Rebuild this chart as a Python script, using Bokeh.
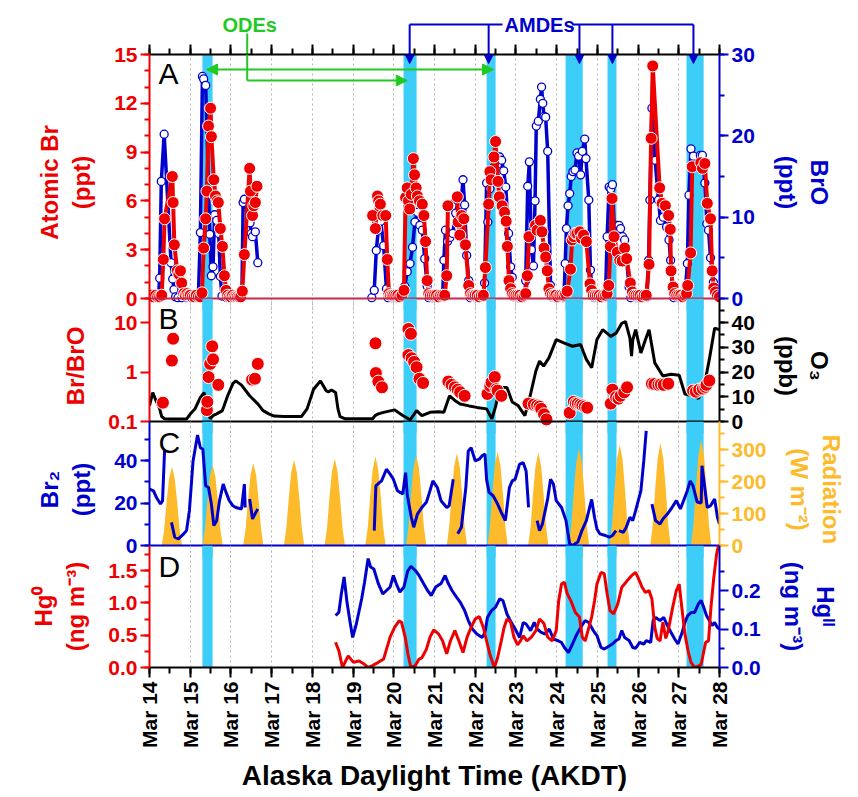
import math
from bokeh.plotting import figure
from bokeh.layouts import column
from bokeh.models import (Range1d, LinearAxis, LinearScale, SingleIntervalTicker, FixedTicker,
                          BoxAnnotation, Span, Label, Arrow, NormalHead, NumeralTickFormatter)
from bokeh.embed import file_html
from bokeh.resources import INLINE

nan = float("nan")

# ---------------- data ----------------
day_ticks = list(range(14, 29))
day_labels = ["Mar %d" % d for d in day_ticks]

event_bands = [(15.30, 15.55), (20.24, 20.56), (22.28, 22.50), (24.22, 24.64), (25.25, 25.47), (27.19, 27.61)]
amde_times = [20.39, 22.33, 24.56, 25.37, 27.36]
ode_times = [15.40, 20.33, 22.45]

br_t = [14.00, 14.05, 14.10, 14.15, 14.20, 14.25, 14.30, 14.34, 14.37, 14.56, 14.58, 14.61, 14.68, 14.72, 14.76, 14.79,
        14.84, 14.88, 14.92, 14.96, 15.00, 15.05, 15.10, 15.15, 15.20, 15.25, 15.29, 15.33, 15.38, 15.41, 15.45, 15.50,
        15.52, 15.58, 15.62, 15.66, 15.69, 15.74, 15.79, 15.84, 15.88, 15.92, 15.96, 16.00, 16.04, 16.08, 16.12, 16.16,
        16.20, 16.24, 16.28, 16.33, 16.46, 16.48, 16.53, 16.56, 16.60, 16.64, 17.5,
        19.48, 19.55, 19.60, 19.63, 19.67, 19.73, 19.80, 19.84, 19.88, 19.92, 19.96, 20.00, 20.05, 20.10, 20.15, 20.20,
        20.25, 20.29, 20.33, 20.36, 20.39, 20.43, 20.48, 20.51, 20.55, 20.58, 20.63, 20.70, 20.74, 20.78, 20.82, 20.86,
        20.90, 20.95, 21.00, 21.05, 21.10, 21.15, 21.20, 21.25, 21.30, 21.33, 21.56, 21.58, 21.62, 21.67, 21.72, 21.76,
        21.84, 21.88, 21.92, 21.96, 22.00, 22.05, 22.10, 22.15, 22.20, 22.25, 22.33, 22.36, 22.39, 22.46, 22.50, 22.56,
        22.59, 22.66, 22.72, 22.76, 22.79, 22.83, 22.87, 22.91, 22.95, 23.00, 23.05, 23.10, 23.15, 23.20, 23.24, 23.28,
        23.32, 23.48, 23.52, 23.60, 23.64, 23.69, 23.73, 23.77, 23.81, 23.85, 23.89, 23.94, 23.98, 24.03, 24.08, 24.13,
        24.18, 24.22, 24.26, 24.34, 24.38, 24.42, 24.46, 24.50, 24.57, 24.61, 24.66, 24.73, 24.82, 24.86, 24.90, 24.95,
        25.00, 25.05, 25.10, 25.15, 25.20, 25.24, 25.28, 25.32, 25.36, 25.41, 25.49, 25.55, 25.61, 25.67, 25.72, 25.81,
        25.86, 25.90, 25.95, 26.00, 26.05, 26.10, 26.15, 26.20, 26.27, 26.32, 26.36, 26.53, 26.59, 26.67, 26.75, 26.79,
        26.81, 26.86, 26.90, 26.95, 27.00, 27.05, 27.10, 27.15, 27.19, 27.22, 27.29, 27.33, 27.54, 27.58, 27.64, 27.70,
        27.78, 27.82, 27.86, 27.90, 27.95, 28.00]
br_v = [0.1, 0.2, 0.1, 0.2, 0.1, 0.1, 0.2, 2.4, 4.9, 7.5, 5.9, 3.3, 1.7, 1.5, 1.7, 0.95,
        0.3, 0.2, 0.3, 0.2, 0.2, 0.1, 0.1, 0.2, 0.1, 0.1, 0.35, 3.1, 4.9, 6.6, 10.6, 11.7,
        9.95, 7.3, 6.3, 6.0, 5.9, 4.3, 3.2, 1.4, 0.5, 0.2, 0.1, 0.1, 0.2, 0.1, 0.1, 0.1,
        0.1, 0.1, 0.45, 2.7, 8.0, 6.6, 5.1, 5.7, 5.9, 6.9, nan,
        5.1, 4.3, 6.3, 6.0, 5.8, 5.1, 5.1, 2.4, 0.3, 0.2, 0.2, 0.2, 0.2, 0.2, 0.1, 0.2,
        0.5, 6.2, 6.8, 6.0, 5.5, 6.4, 8.6, 7.6, 6.8, 6.3, 6.0, 5.8, 5.1, 3.5, 1.1, 0.3,
        0.2, 0.2, 0.2, 0.2, 0.1, 0.2, 0.2, 0.2, 1.4, 5.7, 6.25, 4.7, 3.9, 5.1, 4.9, 3.3,
        0.8, 0.3, 0.2, 0.2, 0.2, 0.2, 0.1, 0.2, 0.2, 1.9, 5.8, 7.8, 7.3, 8.7, 9.65, 7.2,
        6.25, 5.7, 5.3, 4.75, 3.2, 1.1, 0.6, 0.3, 0.2, 0.2, 0.2, 0.2, 0.1, 0.2, 0.3, 1.4,
        3.8, 4.5, 4.2, 4.8, 4.1, 3.1, 2.55, 1.7, 0.6, 0.3, 0.2, 0.2, 0.2, 0.1, 0.2, 0.2,
        0.2, 0.3, 0.45, 1.8, 3.6, 3.8, 4.0, 4.0, 4.1, 3.7, 3.9, 3.5, 0.9, 0.5, 0.2, 0.2,
        0.2, 0.2, 0.1, 0.2, 0.2, 0.3, 0.8, 3.2, 6.15, 3.8, 2.85, 2.35, 2.3, 3.1, 2.45, 0.95,
        0.4, 0.2, 0.2, 0.2, 0.2, 0.1, 0.2, 0.2, 2.1, 9.85, 14.3, 6.8, 5.85, 5.7, 5.1, 4.25,
        1.7, 0.7, 0.3, 0.2, 0.2, 0.2, 0.1, 0.2, 0.3, 0.8, 2.8, 8.1, 8.35, 8.0, 8.3, 5.85,
        4.9, 1.7, 0.65, 0.4, 0.2, 0.1]

bro_t = [14.00, 14.10, 14.20, 14.22, 14.25, 14.29, 14.36, 14.53, 14.57, 14.60, 14.64, 14.70, 14.80, 14.90, 15.00,
         15.10, 15.20, 15.25, 15.30, 15.33, 15.38, 15.48, 15.52, 15.56, 15.60, 15.65, 15.70, 15.74, 15.78, 15.90,
         16.00, 16.10, 16.20, 16.27, 16.30, 16.33, 16.47, 16.50, 16.53, 16.60, 16.66, 17.5,
         19.46, 19.52, 19.57, 19.62, 19.68, 19.75, 19.82, 19.86, 19.95, 20.05, 20.15, 20.22, 20.27, 20.33, 20.40,
         20.46, 20.52, 20.58, 20.64, 20.70, 20.76, 20.82, 20.86, 20.95, 21.05, 21.15, 21.20, 21.23, 21.27, 21.32,
         21.38, 21.45, 21.52, 21.58, 21.65, 21.70, 21.74, 21.79, 21.84, 21.88, 22.00, 22.10, 22.20, 22.23, 22.28,
         22.31, 22.36, 22.43, 22.50, 22.55, 22.60, 22.65, 22.70, 22.75, 22.82, 22.87, 22.91, 22.95, 23.05, 23.15,
         23.22, 23.24, 23.29, 23.33, 23.38, 23.43, 23.47, 23.50, 23.55, 23.60, 23.63, 23.66, 23.69, 23.73, 23.78,
         23.85, 23.88, 23.95, 24.05, 24.15, 24.18, 24.21, 24.24, 24.28, 24.32, 24.36, 24.40, 24.45, 24.50, 24.54,
         24.59, 24.63, 24.69, 24.72, 24.79, 24.83, 24.87, 24.92, 25.00, 25.10, 25.20, 25.24, 25.29, 25.33, 25.37,
         25.42, 25.48, 25.53, 25.57, 25.62, 25.67, 25.72, 25.78, 25.82, 25.95, 26.05, 26.15, 26.22, 26.26, 26.29,
         26.34, 26.42, 26.50, 26.55, 26.62, 26.70, 26.76, 26.80, 26.84, 26.88, 26.98, 27.08, 27.15, 27.21, 27.25,
         27.30, 27.36, 27.45, 27.53, 27.58, 27.64, 27.69, 27.73, 27.78, 27.85, 27.92, 28.00]
bro_v = [0.1, 0.1, 0.1, 0.3, 2.5, 14.4, 20.2, 4.4, 2.4, 1.1, 0.2, 0.1, 0.1, 0.1, 0.1,
         0.1, 0.2, 8.1, 27.3, 27.0, 26.2, 7.9, 2.8, 3.9, 10.3, 9.6, 8.0, 2.7, 0.3, 0.1,
         0.1, 0.1, 0.1, 0.5, 11.8, 12.2, 9.3, 8.0, 7.6, 8.2, 4.4, nan,
         0.1, 1.0, 5.9, 8.4, 9.5, 6.5, 1.2, 0.1, 0.1, 0.1, 0.1, 0.5, 1.5, 3.3, 4.3,
         6.3, 9.4, 10.6, 9.0, 8.4, 4.9, 1.5, 0.1, 0.1, 0.1, 0.1, 0.2, 4.7, 8.4, 7.0,
         7.5, 8.0, 10.5, 12.0, 11.5, 14.6, 11.5, 5.3, 2.2, 0.1, 0.1, 0.1, 0.2, 1.9, 14.2,
         9.4, 13.5, 16.0, 15.0, 16.5, 17.4, 17.0, 15.7, 13.7, 8.0, 3.9, 2.6, 0.2, 0.1, 0.1,
         0.3, 2.2, 13.8, 16.8, 6.0, 4.0, 12.0, 21.2, 21.8, 24.5, 26.0, 24.0, 22.4, 22.3, 18.1,
         1.6, 0.2, 0.1, 0.1, 0.1, 0.3, 4.3, 8.6, 11.4, 12.9, 15.0, 15.6, 15.8, 17.9, 17.5,
         15.2, 18.1, 19.6, 17.2, 12.1, 3.5, 1.2, 0.1, 0.1, 0.1, 0.2, 7.6, 13.7, 13.5, 14.0,
         8.0, 9.0, 9.0, 8.6, 7.6, 7.2, 4.7, 1.4, 0.1, 0.1, 0.1, 0.1, 0.2, 4.7, 12.1,
         23.4, 17.0, 12.1, 9.6, 10.0, 8.8, 7.2, 4.7, 1.5, 0.1, 0.1, 0.1, 0.2, 4.3, 12.7,
         18.4, 17.5, 16.5, 17.6, 17.6, 14.2, 9.2, 8.4, 5.0, 2.0, 0.5, 0.1]

ratio_t = [14.33, 14.55, 14.58, 15.41, 15.42, 15.45, 15.49, 15.54, 15.56, 15.69, 16.52, 16.59, 16.66,
           19.55, 19.56, 19.62, 19.71, 20.36, 20.42, 20.36, 20.44, 20.50, 20.56, 20.63, 20.72,
           21.34, 21.42, 21.50, 21.57, 21.63, 21.74, 22.30, 22.37, 22.40, 22.48, 22.52, 22.55, 22.64,
           23.31, 23.44, 23.52, 23.58, 23.62, 23.69, 23.75, 24.32, 24.42, 24.47, 24.52, 24.58, 24.63, 24.69, 24.75,
           25.33, 25.37, 25.46, 25.52, 25.57, 25.66, 25.73, 26.34, 26.40, 26.50, 26.56, 26.63, 26.74,
           27.35, 27.42, 27.50, 27.59, 27.65, 27.68, 27.75]
ratio_v = [0.24, 1.7, 4.7, 0.17, 0.25, 0.79, 1.46, 3.3, 1.8, 0.55, 0.70, 0.73, 1.46,
           3.8, 0.95, 0.64, 0.49, 7.4, 5.9, 2.2, 1.9, 1.6, 1.25, 0.73, 0.6,
           0.64, 0.55, 0.49, 0.44, 0.39, 0.33, 0.36, 0.52, 0.62, 0.79, 0.45, 0.42, 0.33,
           0.23, 0.22, 0.21, 0.2, 0.18, 0.14, 0.11, 0.15, 0.25, 0.23, 0.23, 0.22, 0.21, 0.2, 0.19,
           0.23, 0.44, 0.31, 0.29, 0.33, 0.39, 0.49, 0.58, 0.57, 0.55, 0.56, 0.55, 0.58,
           0.42, 0.40, 0.44, 0.46, 0.50, 0.55, 0.67]

o3_t = [14.00, 14.08, 14.17, 14.24, 14.30, 14.37, 14.50, 14.70, 14.91, 15.00, 15.12, 15.25, 15.34, 15.42, 15.49,
        15.57, 15.65, 15.79, 15.92, 16.05, 16.12, 16.26, 16.46, 16.66, 16.79, 16.93, 17.06, 17.30, 17.50, 17.73,
        17.87, 18.03, 18.20, 18.34, 18.40, 18.47, 18.57, 18.63, 18.68, 18.81, 19.00, 19.20, 19.48, 19.55, 19.62,
        19.75, 20.02, 20.22, 20.40, 20.48, 20.56, 20.69, 20.89, 21.10, 21.23, 21.37, 21.50, 21.63, 21.85, 22.04,
        22.28, 22.41, 22.50, 22.60, 22.78, 22.91, 23.05, 23.22, 23.35, 23.49, 23.58, 23.68, 23.81, 23.99, 24.19,
        24.39, 24.59, 24.66, 24.73, 24.86, 24.99, 25.13, 25.33, 25.46, 25.60, 25.69, 25.80, 25.84, 25.87, 25.94,
        26.07, 26.18, 26.27, 26.41, 26.61, 26.81, 27.01, 27.15, 27.35, 27.48, 27.61, 27.75, 27.88, 28.00]
o3_v = [6.4, 11.7, 8.0, 5.7, 2.0, 1.1, 1.0, 1.0, 1.0, 3.0, 5.2, 9.7, 11.7, 6.0, 1.1,
        2.5, 3.1, 4.4, 10.4, 15.4, 16.4, 14.7, 10.4, 7.1, 4.4, 3.1, 2.2, 2.0, 2.0, 2.0,
        5.1, 13.0, 16.4, 12.4, 12.0, 12.7, 11.7, 5.0, 2.0, 1.1, 1.1, 1.1, 1.1, 2.5, 3.1,
        3.7, 4.7, 2.4, 0.7, 2.5, 4.4, 2.4, 3.7, 3.9, 3.7, 10.4, 8.5, 7.1, 6.3, 5.7,
        5.1, 1.1, 6.0, 13.7, 13.7, 7.9, 6.5, 2.4, 10.4, 20.4, 24.4, 22.4, 25.7, 33.1, 31.7,
        30.4, 31.1, 28.0, 25.1, 21.7, 33.1, 37.1, 34.4, 35.7, 39.7, 40.4, 33.7, 26.4, 33.0, 37.1,
        27.7, 33.0, 37.1, 23.7, 18.4, 19.1, 18.7, 11.1, 10.4, 9.3, 13.1, 25.1, 37.7, 37.1]

br2_t = [14.00, 14.10, 14.17, 14.27, 14.32, 14.37, 14.45,
         14.54, 14.62, 14.71, 14.84, 14.91, 14.98, 15.07, 15.18, 15.25, 15.31, 15.38, 15.45, 15.52, 15.58, 15.65,
         15.72, 15.81, 15.88, 15.96, 16.05, 16.12, 16.26, 16.33, 16.35, 16.40,
         16.46, 16.53, 16.59, 16.66, 17.5,
         19.52, 19.56, 19.64, 19.70, 19.82, 19.91, 19.99, 20.09, 20.22, 20.29, 20.33, 20.43, 20.49, 20.58, 20.69,
         20.80, 20.89, 20.96, 21.07, 21.16, 21.30, 21.36, 21.46, 21.52,
         21.57, 21.66, 21.77, 21.83, 21.90, 22.00, 22.10, 22.17, 22.24, 22.28, 22.34, 22.44, 22.55, 22.64, 22.74,
         22.84, 22.91, 22.98, 23.09, 23.18, 23.25, 23.31, 23.40,
         23.52, 23.58, 23.65, 23.78, 23.85, 23.92, 23.99, 24.12, 24.23, 24.32, 24.39, 24.52, 24.62, 24.73, 24.86,
         24.93, 24.99, 25.06, 25.20, 25.29, 25.37, 25.46, 25.50,
         25.53, 25.64, 25.71, 25.80, 25.87, 25.94, 26.07, 26.14, 26.20, 26.27,
         26.34, 26.43, 26.54, 26.61, 26.72, 26.81, 26.94, 27.04, 27.21, 27.28, 27.35, 27.45, 27.55, 27.57, 27.70,
         27.78, 27.88, 27.95, 28.00]
br2_v = [26.5, 25.7, 22.6, 19.5, 21.0, 44.5, nan,
         10.9, 3.9, 3.1, 5.5, 7.0, 16.4, 39.8, 52.0, 46.0, 45.3, 28.1, 27.3, 19.5, 9.4, 11.7,
         21.1, 28.9, 25.0, 21.1, 18.7, 17.9, 17.2, 28.9, 17.9, nan,
         21.9, 12.5, 14.8, 17.2, nan,
         7.0, 28.1, 29.5, 30.4, 35.9, 33.6, 31.2, 25.8, 24.2, 34.3, 24.0, 13.3, 8.6, 14.8, 17.9,
         20.3, 25.8, 30.4, 27.3, 21.1, 17.9, 18.7, 31.2, nan,
         5.5, 8.6, 27.3, 44.5, 46.0, 39.8, 40.6, 42.2, 43.0, 31.0, 25.0, 23.4, 19.5, 15.6, 11.7,
         27.3, 30.4, 31.2, 38.3, 39.0, 35.1, 17.9, nan,
         11.7, 7.0, 10.1, 22.0, 31.2, 28.9, 21.1, 17.9, 11.7, 0.8, 0.0, 1.6, 7.0, 11.7, 21.7,
         13.3, 7.8, 5.5, 4.7, 3.9, 4.7, 7.0, nan,
         7.0, 6.2, 8.6, 13.3, 11.7, 16.4, 25.8, 39.8, 53.9, nan,
         19.5, 11.7, 10.1, 12.5, 14.8, 17.2, 21.1, 17.2, 25.8, 30.4, 28.1, 20.5, 20.0, 37.5, 17.9,
         18.7, 21.9, 13.3, 10.1]

rad_days = list(range(14, 28))
rad_offsets = [0.30, 0.36, 0.42, 0.48, 0.55, 0.62, 0.68, 0.74, 0.80]
rad_rows = [
    [0, 49, 136, 210, 247, 210, 136, 49, 0],
    [0, 51, 139, 215, 253, 215, 139, 51, 0],
    [0, 52, 142, 220, 259, 220, 142, 52, 0],
    [0, 54, 148, 229, 269, 229, 148, 54, 0],
    [0, 54, 150, 231, 272, 231, 150, 54, 0],
    [0, 56, 153, 237, 279, 237, 153, 56, 0],
    [0, 57, 156, 241, 284, 241, 156, 57, 0],
    [0, 58, 159, 246, 289, 246, 159, 58, 0],
    [0, 59, 162, 251, 295, 251, 162, 59, 0],
    [0, 58, 161, 248, 292, 248, 161, 58, 0],
    [0, 61, 167, 258, 303, 258, 167, 61, 0],
    [0, 63, 174, 269, 317, 269, 174, 63, 0],
    [0, 64, 177, 273, 321, 273, 177, 64, 0],
    [0, 66, 182, 281, 331, 281, 182, 66, 0],
]

hg0_t = [18.57, 18.65, 18.74, 18.88, 19.01, 19.15, 19.28, 19.37, 19.48, 19.62, 19.75, 19.82, 19.91, 20.02, 20.13,
         20.19, 20.28, 20.35, 20.42, 20.53, 20.62, 20.69, 20.80, 20.89, 20.98, 21.10, 21.20, 21.30, 21.39, 21.50,
         21.60, 21.70, 21.80, 21.90, 22.00, 22.10, 22.20, 22.28, 22.37, 22.47, 22.55, 22.64, 22.71, 22.78, 22.87,
         22.95, 23.04, 23.11, 23.18, 23.27, 23.38, 23.49, 23.58, 23.69, 23.78, 23.89, 23.99, 24.05, 24.12, 24.19,
         24.26, 24.35, 24.46, 24.56, 24.63, 24.70, 24.77, 24.86, 24.93, 24.99, 25.09, 25.17, 25.24, 25.31, 25.40,
         25.50, 25.60, 25.73, 25.84, 25.94, 26.00, 26.10, 26.18, 26.27, 26.34, 26.41, 26.47, 26.54, 26.61, 26.68,
         26.74, 26.85, 26.94, 27.01, 27.08, 27.15, 27.23, 27.30, 27.39, 27.48, 27.55, 27.66, 27.73, 27.79, 27.86,
         27.93, 28.00]
hg0_v = [0.39, 0.26, 0.0, 0.18, 0.08, 0.10, 0.05, 0.0, 0.03, 0.08, 0.13, 0.28, 0.47, 0.62, 0.72,
         0.70, 0.47, 0.20, 0.0, 0.03, 0.13, 0.15, 0.28, 0.47, 0.58, 0.52, 0.41, 0.21, 0.41, 0.57,
         0.41, 0.23, 0.47, 0.62, 0.75, 0.79, 0.62, 0.41, 0.18, 0.0, 0.15, 0.41, 0.62, 0.75, 0.70,
         0.47, 0.35, 0.41, 0.49, 0.41, 0.47, 0.57, 0.75, 0.68, 0.47, 0.41, 0.57, 1.03, 1.29, 1.32,
         1.14, 1.03, 0.85, 0.78, 0.47, 0.41, 0.57, 0.78, 1.03, 1.29, 1.47, 1.45, 1.14, 0.88, 0.83,
         0.98, 1.24, 1.34, 1.42, 1.47, 1.39, 1.24, 1.16, 1.19, 1.06, 0.62, 0.45, 0.41, 0.70, 0.45,
         0.57, 0.93, 1.19, 1.29, 0.90, 0.52, 0.25, 0.08, 0.0, 0.02, 0.05, 0.39, 0.41, 0.93, 1.39,
         1.76, 1.95]

hg2_t = [18.57, 18.65, 18.71, 18.78, 18.85, 18.92, 18.99, 19.08, 19.21, 19.28, 19.37, 19.43, 19.51, 19.62, 19.73,
         19.82, 19.91, 19.99, 20.06, 20.15, 20.25, 20.34, 20.42, 20.53, 20.62, 20.72, 20.83, 20.92, 21.03, 21.16,
         21.26, 21.34, 21.43, 21.54, 21.63, 21.74, 21.83, 21.93, 22.04, 22.17, 22.24, 22.30, 22.40, 22.50, 22.60,
         22.68, 22.78, 22.86, 22.98, 23.09, 23.18, 23.25, 23.36, 23.45, 23.52, 23.62, 23.72, 23.82, 23.92, 24.03,
         24.12, 24.19, 24.29, 24.39, 24.48, 24.59, 24.70, 24.79, 24.90, 24.99, 25.09, 25.17, 25.26, 25.37, 25.46,
         25.53, 25.60, 25.67, 25.78, 25.87, 25.94, 26.04, 26.14, 26.20, 26.31, 26.37, 26.43, 26.54, 26.63, 26.72,
         26.81, 26.90, 26.98, 27.08, 27.15, 27.22, 27.31, 27.39, 27.48, 27.55, 27.61, 27.68, 27.82, 27.88, 27.95,
         28.00]
hg2_v = [0.135, 0.143, 0.190, 0.235, 0.170, 0.122, 0.078, 0.113, 0.178, 0.220, 0.283, 0.261, 0.256, 0.218, 0.191,
         0.200, 0.209, 0.239, 0.218, 0.196, 0.209, 0.250, 0.263, 0.252, 0.239, 0.220, 0.200, 0.187, 0.209, 0.218,
         0.239, 0.218, 0.200, 0.183, 0.170, 0.148, 0.122, 0.100, 0.087, 0.078, 0.091, 0.130, 0.148, 0.157, 0.178,
         0.174, 0.139, 0.122, 0.100, 0.078, 0.117, 0.113, 0.096, 0.117, 0.100, 0.091, 0.087, 0.100, 0.074, 0.070,
         0.065, 0.052, 0.039, 0.061, 0.083, 0.104, 0.122, 0.117, 0.096, 0.083, 0.052, 0.048, 0.054, 0.061, 0.070,
         0.074, 0.096, 0.078, 0.070, 0.052, 0.050, 0.065, 0.061, 0.070, 0.065, 0.122, 0.130, 0.122, 0.130, 0.109,
         0.091, 0.074, 0.061, 0.090, 0.117, 0.135, 0.143, 0.143, 0.165, 0.174, 0.157, 0.135, 0.109, 0.117, 0.104,
         0.100]

# ---------------- styling / layout ----------------
FONT = "Liberation Sans"
RED = "#ee0000"
BLUE = "#0000cc"
ORANGE = "#fdbb2c"
CYAN = "#3ccdf8"
GREEN = "#22c922"
BLACK = "#000000"

BL, FW, BR = 149, 570, 139     # left border, frame width, right border (px)
E = 12                          # overlap of each panel frame into the next one
TOP = 54                        # top of panel A (page px)
PA = (54, 298)                  # (top, bottom) page rows of each panel
PB = (298, 421)
PC = (421, 545)
PD = (545, 667)

rad_t, rad_v = [], []
for d, row in zip(rad_days, rad_rows):
    for o, v in zip(rad_offsets, row):
        rad_t.append(d + o)
        rad_v.append(v)

xr = Range1d(14, 28)


def lin_map(v0, y0, v1, y1):
    s = (v1 - v0) / (y0 - y1)
    return lambda y: v0 + (y0 - y) * s


def make_range(f, top, bottom, panel, log=False):
    if log:
        lo, hi = 10 ** f(panel[1]) * 0.999, 10 ** f(panel[0])
        return Range1d(10 ** f(bottom), 10 ** f(top)), (lo, hi)
    lo, hi = f(panel[1]), f(panel[0])
    eps = (hi - lo) * 1e-6
    return Range1d(f(bottom), f(top)), (lo - eps, hi + eps)


def style_y(ax, color, ticker, label, bnds, fmt=None):
    ax.ticker = ticker
    ax.bounds = bnds
    if fmt is not None:
        ax.formatter = fmt
    ax.axis_line_color = color
    ax.axis_line_width = 2
    ax.major_tick_line_color = color
    ax.minor_tick_line_color = color
    ax.major_tick_line_width = 2
    ax.minor_tick_line_width = 2
    ax.major_tick_out = 9
    ax.major_tick_in = 0
    ax.minor_tick_out = 5
    ax.minor_tick_in = 0
    ax.major_label_text_color = color
    ax.major_label_text_font = FONT
    ax.major_label_text_font_style = "bold"
    ax.major_label_text_font_size = "21px"
    ax.major_label_standoff = 3
    ax.axis_label = label
    ax.axis_label_text_color = color
    ax.axis_label_text_font = FONT
    ax.axis_label_text_font_style = "bold"
    ax.axis_label_text_font_size = "24px"
    ax.axis_label_standoff = 16


def style_x_ticks(ax):
    ax.ticker = SingleIntervalTicker(interval=1, num_minor_ticks=2)
    ax.axis_line_color = BLACK
    ax.axis_line_width = 2
    ax.major_tick_line_color = BLACK
    ax.minor_tick_line_color = BLACK
    ax.major_tick_line_width = 2
    ax.minor_tick_line_width = 2
    ax.major_tick_out = 10
    ax.major_tick_in = 0
    ax.minor_tick_out = 6
    ax.minor_tick_in = 0


def make_fig(frame_h, top_b, bottom_b, y_range, shift, y_type="linear", x_loc="below", transparent=True):
    kw = dict(x_range=xr, y_range=y_range, y_axis_type=y_type, frame_width=FW, frame_height=frame_h,
              min_border_left=BL, min_border_right=BR, min_border_top=top_b, min_border_bottom=bottom_b,
              toolbar_location=None, output_backend="svg", outline_line_color=None,
              x_axis_location=x_loc, border_fill_alpha=0)
    if transparent:
        kw["background_fill_alpha"] = 0
    if shift:
        kw["margin"] = (-shift, 0, 0, 0)
        kw["styles"] = {"margin-top": "-%dpx" % shift}
    p = figure(**kw)
    p.ygrid.visible = False
    p.xgrid.ticker = SingleIntervalTicker(interval=1)
    p.xgrid.grid_line_color = "#b4b4b4"
    p.xgrid.grid_line_dash = "2 3"
    p.xgrid.grid_line_width = 1
    for a, b in event_bands:
        p.add_layout(BoxAnnotation(left=a, right=b, fill_color=CYAN, fill_alpha=1.0,
                                   line_alpha=0, level="underlay"))
    return p


def add_right(p, rng, color, ticker, label, bnds, fmt=None):
    p.extra_y_ranges = {"r": rng}
    p.extra_y_scales = {"r": LinearScale()}
    ax = LinearAxis(y_range_name="r")
    style_y(ax, color, ticker, label, bnds, fmt)
    p.add_layout(ax, "right")


def letter(p, y, text):
    p.add_layout(Label(x=14.22, y=y, text=text, text_font=FONT, text_font_size="30px",
                       text_align="left", text_baseline="middle", text_color=BLACK))


# ---- header (event annotations above panel A) ----
hdr = figure(x_range=xr, y_range=Range1d(-TOP, 0), frame_width=FW, frame_height=TOP,
             min_border_left=BL, min_border_right=BR, min_border_top=0, min_border_bottom=0,
             toolbar_location=None, output_backend="svg", outline_line_color=None,
             x_axis_location=None, y_axis_location=None, border_fill_alpha=0, background_fill_alpha=0)
hdr.xgrid.visible = False
hdr.ygrid.visible = False
hdr.add_layout(Label(x=16.46, y=-24, text="ODEs", text_font=FONT, text_font_style="bold",
                     text_font_size="20px", text_color=GREEN, text_align="center", text_baseline="middle"))
hdr.add_layout(Label(x=23.58, y=-24, text="AMDEs", text_font=FONT, text_font_style="bold",
                     text_font_size="20px", text_color=BLUE, text_align="center", text_baseline="middle"))
ode_bend = 16.40
hdr.add_layout(Arrow(x_start=ode_bend, y_start=-33, x_end=ode_bend, y_end=-TOP - 1, end=None,
                     line_color=GREEN, line_width=2))
hdr.add_layout(Arrow(x_start=amde_times[0], y_start=-24, x_end=22.67, y_end=-24, end=None,
                     line_color=BLUE, line_width=2))
hdr.add_layout(Arrow(x_start=24.38, y_start=-24, x_end=amde_times[-1], y_end=-24, end=None,
                     line_color=BLUE, line_width=2))
for t in amde_times:
    hdr.add_layout(Arrow(x_start=t, y_start=-24, x_end=t, y_end=-TOP - 1, end=None,
                         line_color=BLUE, line_width=2))

# ---- panel A: atomic Br and BrO ----
fA = lin_map(0, PA[1], 15, PA[0])
rA, bA = make_range(fA, PA[0], PA[1] + E, PA)
fA2 = lin_map(0, PA[1], 30, PA[0])
rA2, bA2 = make_range(fA2, PA[0], PA[1] + E, PA)
pA = make_fig(PA[1] + E - PA[0], TOP, 0, rA, TOP, x_loc="above", transparent=False)
style_x_ticks(pA.xaxis[0])
pA.xaxis[0].major_label_text_color = None
style_y(pA.yaxis[0], RED, SingleIntervalTicker(interval=3, num_minor_ticks=3), "Atomic Br\n(ppt)", bA)
add_right(pA, rA2, BLUE, SingleIntervalTicker(interval=10, num_minor_ticks=2), "BrO\n(ppt)", bA2)
pA.add_layout(Span(location=0, dimension="width", line_color="#c8284a", line_width=2))
pA.line(bro_t, bro_v, y_range_name="r", line_color=BLUE, line_width=3.5)
pA.scatter(bro_t, bro_v, y_range_name="r", size=8, fill_color="white", line_color=BLUE, line_width=1.3)
pA.line(br_t, br_v, line_color=RED, line_width=4)
pA.scatter(br_t, br_v, size=12, fill_color=RED, line_color="white", line_width=1)
letter(pA, fA(73), "A")
head = dict(size=10, fill_color=BLUE, line_color=BLUE)
for t in amde_times:
    pA.add_layout(Arrow(x_start=t, y_start=fA(PA[0] - 2), x_end=t, y_end=fA(63),
                        end=NormalHead(**head), line_color=BLUE, line_width=2))
ghead = dict(size=11, fill_color=GREEN, line_color=GREEN)
pA.add_layout(Arrow(x_start=ode_bend, y_start=fA(PA[0] - 2), x_end=ode_bend, y_end=fA(80), end=None,
                    line_color=GREEN, line_width=2))
pA.add_layout(Arrow(x_start=ode_bend, y_start=fA(80), x_end=ode_times[1], y_end=fA(80),
                    end=NormalHead(**ghead), line_color=GREEN, line_width=2))
pA.add_layout(Arrow(x_start=ode_times[0], y_start=fA(69), x_end=ode_times[2], y_end=fA(69),
                    start=NormalHead(**ghead), end=NormalHead(**ghead), line_color=GREEN, line_width=2))

# ---- panel B: Br/BrO ratio and O3 ----
fB = lin_map(-1, PB[1], 1, 322)          # log10 of ratio
rB, bB = make_range(fB, PB[0], PB[1] + E, PB, log=True)
fB2 = lin_map(0, PB[1], 40, 322)
rB2, bB2 = make_range(fB2, PB[0], PB[1] + E, PB)
pB = make_fig(PB[1] + E - PB[0], 0, 0, rB, E, y_type="log")
pB.xaxis.visible = False
style_y(pB.yaxis[0], RED, FixedTicker(ticks=[0.1, 1, 10], minor_ticks=[]), "Br/BrO", bB)
pB.yaxis[0].major_label_overrides = {0.1: "0.1", 1: "1", 10: "10"}
add_right(pB, rB2, BLACK, SingleIntervalTicker(interval=10, num_minor_ticks=2), "O\u2083\n(ppb)", bB2)
pB.add_layout(Span(location=0.1, dimension="width", line_color=BLACK, line_width=2))
pB.line(o3_t, o3_v, y_range_name="r", line_color=BLACK, line_width=3)
pB.scatter(ratio_t, ratio_v, size=13, fill_color=RED, line_color="white", line_width=1)
letter(pB, 10 ** fB(318), "B")

# ---- panel C: Br2 and radiation ----
fC = lin_map(0, PC[1], 40, 460)
rC, bC = make_range(fC, PC[0], PC[1] + E, PC)
fC2 = lin_map(0, PC[1], 300, 449.3)
rC2, bC2 = make_range(fC2, PC[0], PC[1] + E, PC)
pC = make_fig(PC[1] + E - PC[0], 0, 0, rC, E)
pC.xaxis.visible = False
style_y(pC.yaxis[0], BLUE, SingleIntervalTicker(interval=20, num_minor_ticks=2), "Br\u2082\n(ppt)", bC)
add_right(pC, rC2, ORANGE, SingleIntervalTicker(interval=100, num_minor_ticks=2),
          "Radiation\n(W m\u207b\u00b2)", bC2)
pC.varea(x=rad_t, y1=0, y2=rad_v, y_range_name="r", fill_color=ORANGE)
pC.add_layout(Span(location=0, dimension="width", line_color=BLUE, line_width=2))
pC.line(br2_t, br2_v, line_color=BLUE, line_width=3)
letter(pC, fC(442), "C")

# ---- panel D: Hg0 and HgII ----
fD = lin_map(0, PD[1], 1.5, 570)
rD, bD = make_range(fD, PD[0], PD[1], PD)
fD2 = lin_map(0, PD[1], 0.2, 590)
rD2, bD2 = make_range(fD2, PD[0], PD[1], PD)
pD = make_fig(PD[1] - PD[0], 0, 797 - PD[1], rD, E)
xa = pD.xaxis[0]
style_x_ticks(xa)
xa.major_label_overrides = {d: lab for d, lab in zip(day_ticks, day_labels)}
xa.major_label_orientation = math.pi / 2
xa.major_label_text_color = BLACK
xa.major_label_text_font = FONT
xa.major_label_text_font_style = "bold"
xa.major_label_text_font_size = "21px"
xa.major_label_standoff = 4
xa.axis_label = "Alaska Daylight Time (AKDT)"
xa.axis_label_text_color = BLACK
xa.axis_label_text_font = FONT
xa.axis_label_text_font_style = "bold"
xa.axis_label_text_font_size = "28px"
xa.axis_label_standoff = 9
style_y(pD.yaxis[0], RED, SingleIntervalTicker(interval=0.5, num_minor_ticks=2), "Hg\u2070\n(ng m\u207b\u00b3)",
        bD, NumeralTickFormatter(format="0.0"))
add_right(pD, rD2, BLUE, FixedTicker(ticks=[0.0, 0.1, 0.2], minor_ticks=[0.05, 0.15, 0.25]),
          "Hg\u1d35\u1d35\n(ng m\u207b\u00b3)", bD2, NumeralTickFormatter(format="0.0"))
pD.line(hg2_t, hg2_v, y_range_name="r", line_color=BLUE, line_width=3)
pD.line(hg0_t, hg0_v, line_color=RED, line_width=3)
letter(pD, fD(566), "D")

layout = column(hdr, pA, pB, pC, pD, spacing=0)
open("out.html", "w").write(file_html(layout, INLINE))
